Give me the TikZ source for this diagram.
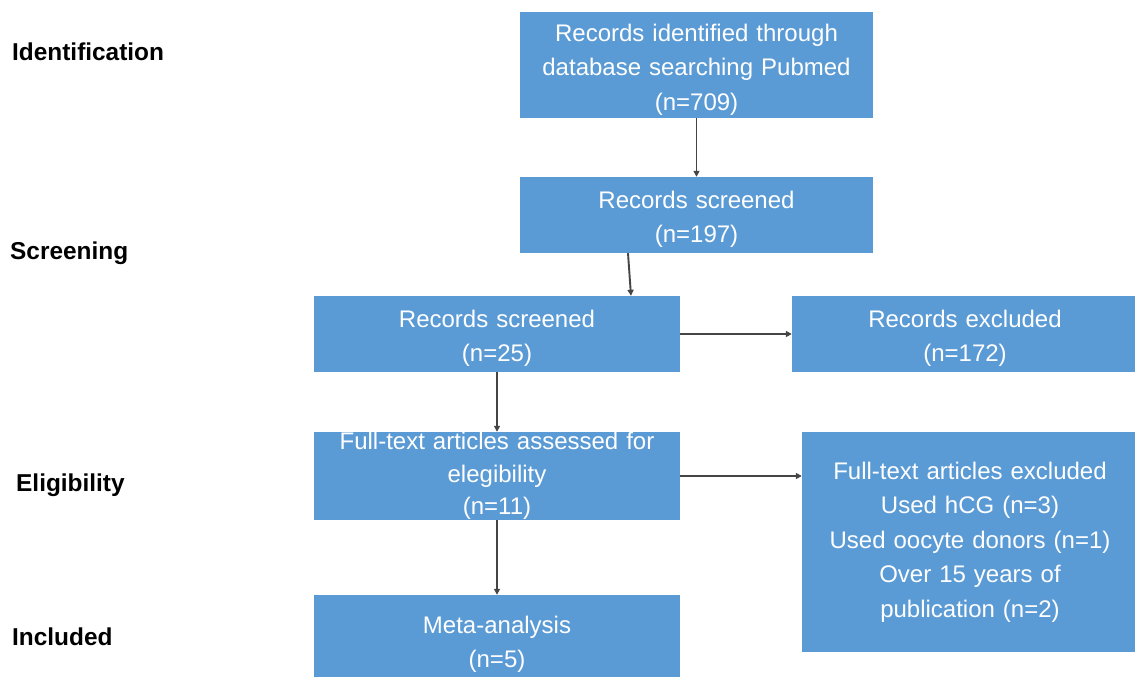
\documentclass[tikz,border=0pt]{standalone}
\usepackage{fontspec}
\setmainfont{Liberation Sans}
\usetikzlibrary{arrows.meta,positioning}
\definecolor{boxblue}{HTML}{5B9BD5}
\definecolor{arrowgray}{HTML}{454545}
\tikzset{
  flowbox/.style={fill=boxblue, draw=none, text=white, align=center, inner sep=0pt,
    font=\fontsize{24}{34.5}\selectfont},
  nudged/.style={execute at begin node={\rule{0pt}{26pt}}},
  phase/.style={anchor=west, font=\fontsize{24.4}{28}\selectfont\bfseries, text=black, inner sep=0pt},
  conn/.style={draw=arrowgray, line width=1.9pt, -{Triangle[length=6pt,width=6pt]}}
}
\begin{document}
\begin{tikzpicture}[x=1pt,y=-1pt]
\useasboundingbox (0,0) rectangle (1135,677);
\fill[white] (0,0) rectangle (1135,677);
% boxes
\node[flowbox, nudged, minimum width=353pt, minimum height=106pt, text width=340pt] (b1) at (696.5,65)
  {Records identified through\\database searching Pubmed\\(n=709)};
\node[flowbox, nudged, minimum width=353pt, minimum height=76pt, text width=340pt] (b2) at (696.5,215)
  {Records screened\\(n=197)};
\node[flowbox, nudged, minimum width=366pt, minimum height=76pt, text width=355pt] (b3) at (497,334)
  {Records screened\\(n=25)};
\node[flowbox, nudged, minimum width=346pt, minimum height=76pt, text width=346pt] (b4) at (965,334)
  {Records excluded\\(n=172)};
\node[flowbox, minimum width=366pt, minimum height=88pt, text width=360pt,
  font=\fontsize{24}{32.5}\selectfont] (b5) at (497,476)
  {Full-text articles assessed for\\elegibility\\(n=11)};
\node[flowbox, minimum width=336pt, minimum height=220pt, text width=336pt] (b6) at (970,542)
  {Full-text articles excluded\\Used hCG (n=3)\\Used oocyte donors (n=1)\\Over 15 years of\\publication (n=2)};
\node[flowbox, nudged, minimum width=366pt, minimum height=90pt, text width=355pt] (b7) at (497,640)
  {Meta-analysis\\(n=5)};
% phase labels
\node[phase] (l1) at (12,52) {Identification};
\node[phase] (l2) at (10,253) {Screening};
\node[phase] (l3) at (16,485) {Eligibility};
\node[phase] (l4) at (12,637) {Included};
% connectors
\draw[conn] (b1.south) -- (b2.north);
\draw[conn] ([xshift=-68.5pt]b2.south) -- ([xshift=134pt]b3.north);
\draw[conn] (b3.east) -- (b4.west);
\draw[conn] (b3.south) -- (b5.north);
\draw[conn] (b5.east) -- ([yshift=66pt]b6.west);
\draw[conn] (b5.south) -- (b7.north);
\end{tikzpicture}
\end{document}
